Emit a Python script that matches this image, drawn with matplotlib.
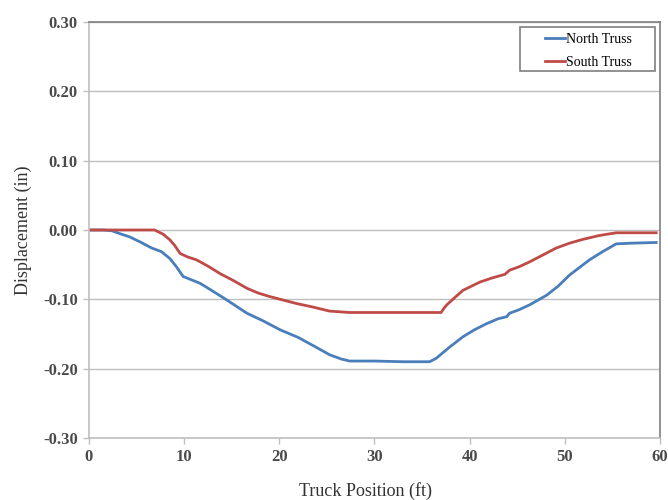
import matplotlib
matplotlib.use("Agg")
import matplotlib.pyplot as plt
from matplotlib.patches import Rectangle

plt.rcParams['font.family'] = ['Liberation Serif', 'DejaVu Serif']

# Truck position (ft) and measured displacement (in)
north_x = [0.0, 1.5, 2.4, 3.2, 4.3, 5.5, 6.6, 7.6, 8.5, 9.2, 9.9, 10.8, 11.7, 13.0, 14.5, 16.6,
           18.3, 20.1, 22.0, 23.6, 25.3, 26.5, 27.4, 30.0, 33.0, 35.8, 36.5, 37.8, 39.3, 40.5,
           41.8, 43.0, 43.9, 44.2, 45.2, 46.3, 48.1, 49.3, 50.5, 52.6, 54.0, 55.4, 57.0, 59.6]
north_y = [0.000, 0.000, -0.001, -0.005, -0.010, -0.018, -0.026, -0.031, -0.041, -0.053, -0.067,
           -0.072, -0.077, -0.088, -0.101, -0.120, -0.131, -0.144, -0.155, -0.167, -0.180, -0.186,
           -0.189, -0.189, -0.190, -0.190, -0.185, -0.170, -0.154, -0.144, -0.135, -0.128, -0.125,
           -0.120, -0.115, -0.108, -0.094, -0.081, -0.065, -0.043, -0.031, -0.020, -0.019, -0.018]

south_x = [0.0, 3.0, 5.0, 6.9, 7.8, 8.5, 9.0, 9.6, 10.4, 11.3, 12.5, 13.8, 15.2, 16.6, 17.8, 19.0,
           20.4, 21.8, 23.5, 25.3, 27.4, 30.0, 33.0, 37.0, 37.3, 37.6, 38.4, 39.3, 40.2, 41.1,
           42.4, 43.7, 44.2, 45.2, 46.3, 47.7, 49.1, 50.5, 51.9, 53.6, 55.4, 57.5, 59.6]
south_y = [0.000, 0.000, 0.000, 0.000, -0.006, -0.014, -0.022, -0.034, -0.039, -0.043, -0.052,
           -0.063, -0.073, -0.084, -0.091, -0.096, -0.101, -0.106, -0.111, -0.117, -0.119, -0.119,
           -0.119, -0.119, -0.113, -0.108, -0.098, -0.087, -0.081, -0.075, -0.069, -0.064, -0.058,
           -0.053, -0.046, -0.036, -0.026, -0.019, -0.0135, -0.008, -0.004, -0.004, -0.004]

series_names = ["North Truss", "South Truss"]
series_colors = ["#4a7ebb", "#be4b48"]

x_ticks = [0, 10, 20, 30, 40, 50, 60]
y_ticks = [-0.30, -0.20, -0.10, 0.00, 0.10, 0.20, 0.30]

fig = plt.figure(figsize=(6.68, 5.0), dpi=100)
ax = fig.add_axes([0.133, 0.124, 0.855, 0.832])

ax.plot(north_x, north_y, color=series_colors[0], lw=2.0, label=series_names[0])
ax.plot(south_x, south_y, color=series_colors[1], lw=2.0, label=series_names[1])

ax.set_xlim(0, 60)
ax.set_ylim(-0.30, 0.30)
ax.set_xticks(x_ticks)
ax.set_yticks(y_ticks)
ax.set_yticklabels([f"{v:.2f}" for v in y_ticks])
ax.yaxis.grid(True, color="#bfbfbf", lw=1.0)
ax.set_axisbelow(True)

for lbl in ax.get_xticklabels() + ax.get_yticklabels():
    lbl.set_fontsize(12)
    lbl.set_fontweight('bold')
    lbl.set_color('#4a4a4a')
ax.tick_params(axis='both', direction='out', length=4, width=1, color='#bfbfbf', pad=4)

ax.spines['left'].set_color('#bfbfbf')
ax.spines['bottom'].set_color('#bfbfbf')
ax.spines['top'].set_color('#7f7f7f')
ax.spines['right'].set_color('#7f7f7f')
for s in ax.spines.values():
    s.set_linewidth(1.2)

ax.set_xlabel("Truck Position (ft)", fontsize=13, color='#333333')
ax.xaxis.set_label_coords(0.484, -0.105)
ax.set_ylabel("Displacement (in)", fontsize=13, color='#333333', labelpad=8)

# Legend box with generous padding around the entries
ax.add_patch(Rectangle((0.755, 0.882), 0.236, 0.106, transform=ax.transAxes,
                       facecolor='white', edgecolor='#7f7f7f', lw=1.2, zorder=5))
leg = ax.legend(loc='upper left', bbox_to_anchor=(0.776, 1.004), fontsize=10,
                frameon=False, handlelength=1.45, handletextpad=0.1,
                borderpad=0.4, labelspacing=0.7)
leg.set_zorder(6)

fig.savefig("out.png", dpi=100)
